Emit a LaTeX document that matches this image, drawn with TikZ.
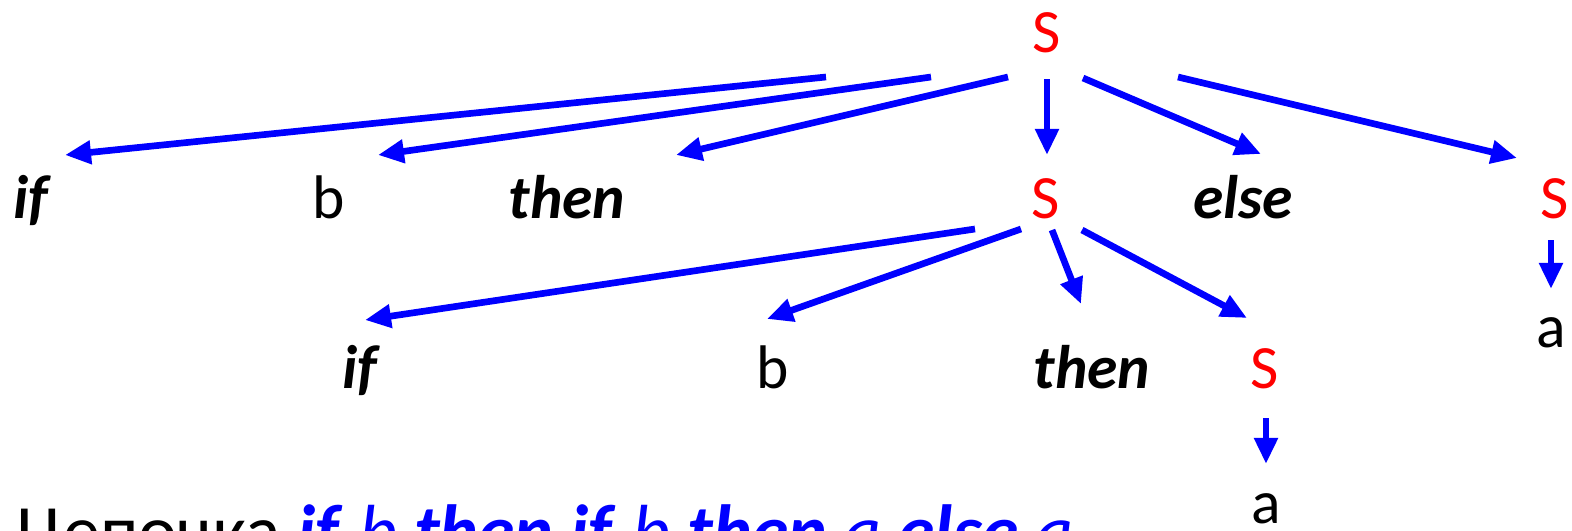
\documentclass[tikz,border=0pt]{standalone}
\usepackage{fontspec}
\setmainfont{Carlito}
\usetikzlibrary{arrows.meta}
\begin{document}
\begin{tikzpicture}[x=0.01cm,y=-0.01cm,
  lbl/.style={anchor=base,inner sep=0pt,font=\fontsize{17.5}{20}\selectfont},
  nt/.style={lbl,text=red},
  kw/.style={lbl,font=\fontsize{17.5}{20}\selectfont\bfseries\itshape},
  arr/.style={draw=blue,line width=1.9pt,-{Triangle[length=7.4pt,width=6.4pt]}}]
\useasboundingbox (0,0) rectangle (1572,530);
% nodes
\node[nt] (S0) at (1047,52) {S};
\node[kw] (if1) at (31,218) {if};
\node[lbl] (b1) at (329,218) {b};
\node[kw] (then1) at (567,218) {then};
\node[nt] (S1) at (1046,218) {S};
\node[kw] (else1) at (1243,218) {else};
\node[nt] (S2) at (1555,218) {S};
\node[lbl] (a2) at (1551,347) {a};
\node[kw] (if2) at (360,388) {if};
\node[lbl] (b2) at (773,388) {b};
\node[kw] (then2) at (1092,388) {then};
\node[nt] (S3) at (1265,388) {S};
\node[lbl] (a3) at (1266,523) {a};
\node[anchor=base west,inner sep=0pt,font=\fontsize{21}{25}\selectfont] (str) at (16,556)
  {Цепочка \textcolor{blue}{\textbf{\textit{if}} \textit{b} \textbf{\textit{then}} \textbf{\textit{if}} \textit{b} \textbf{\textit{then}} \textit{a} \textbf{\textit{else}} \textit{a}}};
% connector end points
\coordinate (t1) at (826,77);   \coordinate (h1) at (65,155);
\coordinate (t2) at (931,77);   \coordinate (h2) at (378,155);
\coordinate (t3) at (1008,77);  \coordinate (h3) at (676,155);
\coordinate (t4) at (1047,79);  \coordinate (h4) at (1047,155);
\coordinate (t5) at (1083,78);  \coordinate (h5) at (1261,154);
\coordinate (t6) at (1178,77);  \coordinate (h6) at (1517,158);
\coordinate (t7) at (975,229);  \coordinate (h7) at (365,320);
\coordinate (t8) at (1021,229); \coordinate (h8) at (767,319);
\coordinate (t9) at (1052,230); \coordinate (h9) at (1081,304);
\coordinate (t10) at (1082,230); \coordinate (h10) at (1247,318);
\coordinate (t11) at (1551,240); \coordinate (h11) at (1551,289);
\coordinate (t12) at (1266,418); \coordinate (h12) at (1266,464);
% connectors
\foreach \i in {1,...,12} {\draw[arr] (t\i) -- (h\i);}
\end{tikzpicture}
\end{document}
